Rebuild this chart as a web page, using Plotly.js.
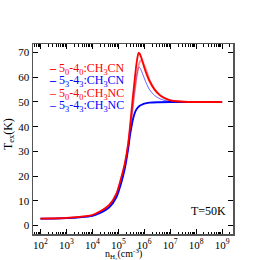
<!DOCTYPE html>
<html>
<head>
<meta charset="utf-8">
<script src="https://cdn.plot.ly/plotly-3.0.1.min.js"></script>
<style>html,body{margin:0;padding:0;background:#fff;}#chart{width:274px;height:260px;}</style>
</head>
<body>
<div id="chart"></div>
<script>
// log10 of n_H2 (cm^-3) and T_ex (K) for each series
var cnA_logn = [2, 2.5, 3, 3.5, 4, 4.3, 4.65, 4.93, 5.12, 5.25, 5.38, 5.45, 5.5, 5.55, 5.6, 5.65, 5.7, 5.75, 5.78, 5.82, 5.9, 6.0, 6.1, 6.2, 6.4, 6.6, 6.8, 7.0, 7.25, 7.5, 8, 8.5, 9];
var cnA_tex  = [2.7, 2.8, 3.0, 3.4, 4.2, 5.7, 8.3, 13, 19.7, 25.1, 33.2, 40, 45.5, 51, 56, 61, 65.5, 68.8, 69.9, 69.6, 67.5, 64, 61, 58.5, 55, 52.8, 51.5, 50.7, 50.3, 50.1, 50, 50, 50];

var cnB_logn = [2, 2.5, 3, 3.5, 4, 4.3, 4.65, 4.93, 5.12, 5.25, 5.38, 5.45, 5.5, 5.55, 5.6, 5.65, 5.7, 5.8, 5.9, 6.0, 6.2, 6.5, 7, 8, 9];
var cnB_tex  = [2.7, 2.75, 2.9, 3.2, 3.8, 5.0, 7.3, 11.5, 17.5, 23, 31, 36.5, 39.5, 42.3, 44.4, 46, 47.1, 48.3, 48.9, 49.3, 49.7, 49.9, 50, 50, 50];

var ncA_logn = [2, 2.5, 3, 3.5, 4, 4.3, 4.65, 4.93, 5.12, 5.25, 5.38, 5.5, 5.6, 5.7, 5.8, 5.87, 5.95, 6.05, 6.2, 6.4, 6.6, 6.8, 7.0, 7.5, 8, 9];
var ncA_tex  = [2.7, 2.8, 3.0, 3.4, 4.1, 5.5, 8.0, 12.5, 19, 24.5, 32.5, 43, 52, 60, 65.5, 66.9, 66, 63.5, 59, 55, 52.7, 51.4, 50.7, 50.1, 50, 50];

var ncB_logn = [2, 2.5, 3, 3.5, 4, 4.3, 4.65, 4.93, 5.12, 5.25, 5.38, 5.5, 5.6, 5.7, 5.79, 5.85, 5.95, 6.05, 6.2, 6.4, 6.6, 6.8, 7, 7.5, 8, 9];
var ncB_tex  = [2.7, 2.75, 2.95, 3.3, 3.9, 5.2, 7.6, 12, 18.5, 24, 32, 42.5, 52, 60, 64.2, 63.5, 61, 58.3, 55, 52.6, 51.3, 50.6, 50.3, 50.05, 50, 50];

var seriesNames = [
  '5<sub>0</sub>-4<sub>0</sub>:CH<sub>3</sub>CN',
  '5<sub>3</sub>-4<sub>3</sub>:CH<sub>3</sub>CN',
  '5<sub>0</sub>-4<sub>0</sub>:CH<sub>3</sub>NC',
  '5<sub>3</sub>-4<sub>3</sub>:CH<sub>3</sub>NC'
];
var xTickExp = [2, 3, 4, 5, 6, 7, 8, 9];
var yTicks = [0, 10, 20, 30, 40, 50, 60, 70];

function pw(a){ return a.map(function(v){ return Math.pow(10, v); }); }

var FONT = 'Liberation Serif, Times New Roman, serif';
var traces = [
  {x: pw(ncB_logn), y: ncB_tex, mode: 'lines', line: {color: 'rgba(70,70,255,0.85)', width: 1, shape: 'spline', smoothing: 0.6}, name: seriesNames[3]},
  {x: pw(ncA_logn), y: ncA_tex, mode: 'lines', line: {color: 'rgba(255,60,60,0.55)', width: 2, shape: 'spline', smoothing: 0.6}, name: seriesNames[2]},
  {x: pw(cnB_logn), y: cnB_tex, mode: 'lines', line: {color: '#0000ff', width: 1.8, shape: 'spline', smoothing: 0.6}, name: seriesNames[1]},
  {x: pw(cnA_logn), y: cnA_tex, mode: 'lines', line: {color: '#ff0000', width: 1.8, shape: 'spline', smoothing: 0.6}, name: seriesNames[0]}
];

var legendColors = ['#ff0000', '#0000ff', '#ff0000', '#0000ff'];
var legendDash = ['<b>–</b>', '<b>–</b>', '–', '–'];
var legendY = [0.867, 0.804, 0.739, 0.676];
var ann = [];
for (var i = 0; i < 4; i++) {
  ann.push({xref: 'paper', yref: 'paper', x: 0.072, y: legendY[i], xanchor: 'left', yanchor: 'middle',
    showarrow: false, text: legendDash[i] + ' ' + seriesNames[i], font: {family: FONT, size: 12, color: legendColors[i]}});
}
ann.push({xref: 'paper', yref: 'paper', x: 0.975, y: 0.12, xanchor: 'right', yanchor: 'middle', showarrow: false,
  text: 'T=50K', font: {family: FONT, size: 12, color: '#000'}});
ann.push({xref: 'paper', yref: 'paper', x: 0.452, y: -0.105, xanchor: 'center', yanchor: 'middle', showarrow: false,
  text: 'n<sub>H₂</sub>(cm<sup>-3</sup>)', font: {family: FONT, size: 10, color: '#000'}});
ann.push({xref: 'paper', yref: 'paper', x: -0.12, y: 0.526, xanchor: 'center', yanchor: 'middle', showarrow: false, textangle: -90,
  text: 'T<sub>ex</sub>(K)', font: {family: FONT, size: 12, color: '#000'}});

var layout = {
  width: 274, height: 260,
  margin: {l: 33, r: 41, t: 44, b: 26},
  paper_bgcolor: '#fff', plot_bgcolor: '#fff',
  showlegend: false,
  font: {family: FONT, size: 11, color: '#000'},
  xaxis: {
    type: 'log', range: [1.71, 9.42],
    tickvals: xTickExp.map(function(e){ return Math.pow(10, e); }),
    ticktext: xTickExp.map(function(e){ return '10<sup>' + e + '</sup>'; }),
    ticks: 'inside', ticklen: 5, tickwidth: 1, tickcolor: '#000',
    minor: {ticks: 'inside', ticklen: 2.5, tickwidth: 1, tickcolor: '#000', dtick: 'D1', showgrid: false},
    showline: true, linecolor: '#555', linewidth: 1.5, mirror: 'ticks',
    showgrid: false, zeroline: false,
    tickfont: {family: FONT, size: 11, color: '#000'}
  },
  yaxis: {
    range: [-3.5, 73.5],
    tickvals: yTicks,
    ticks: 'inside', ticklen: 5, tickwidth: 1, tickcolor: '#000',
    showline: true, linecolor: '#555', linewidth: 1.5, mirror: 'ticks',
    showgrid: false, zeroline: false,
    tickfont: {family: FONT, size: 11, color: '#000'}
  },
  annotations: ann
};

Plotly.newPlot('chart', traces, layout, {displayModeBar: false, staticPlot: true});
</script>
</body>
</html>
